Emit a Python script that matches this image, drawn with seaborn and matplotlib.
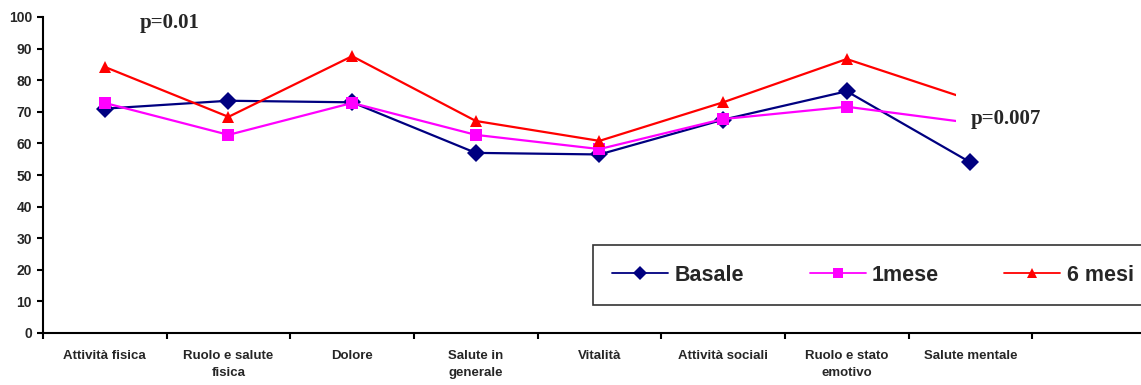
import numpy as np
import pandas as pd
import seaborn as sns
import matplotlib.pyplot as plt
from matplotlib.ticker import FixedLocator

# dati
categorie = ['Attività fisica', 'Ruolo e salute\nfisica', 'Dolore', 'Salute in\ngenerale',
             'Vitalità', 'Attività sociali', 'Ruolo e stato\nemotivo', 'Salute mentale']
basale = [71, 73.5, 73, 57, 56.5, 67.5, 76.5, 54]
un_mese = [72.8, 62.7, 72.8, 62.7, 58.2, 67.7, 71.6, 66.5]
sei_mesi = [84.2, 68.4, 87.6, 67.1, 60.8, 73, 86.7, 73.8]
serie = ['Basale', '1mese', '6 mesi']

df = pd.DataFrame({
    'pos': list(range(len(categorie))) * 3,
    'valore': basale + un_mese + sei_mesi,
    'serie': np.repeat(serie, len(categorie)),
})

sns.set_style('white')
plt.rcParams['font.family'] = ['Liberation Sans', 'DejaVu Sans']

fig, ax = plt.subplots(figsize=(11.41, 3.85), dpi=100)
fig.subplots_adjust(left=43 / 1141, right=1.0, bottom=52 / 385, top=368 / 385)

colori = {'Basale': '#000080', '1mese': '#FF00FF', '6 mesi': '#FF0000'}
marker = {'Basale': 'D', '1mese': 's', '6 mesi': '^'}
sns.lineplot(data=df, x='pos', y='valore', hue='serie', style='serie',
             palette=colori, markers=marker, dashes=False, markersize=9,
             markeredgewidth=0, linewidth=1.6, ax=ax, legend=True)

ax.set_xlim(-0.5, 8.38)
ax.set_ylim(0, 100)
ax.set_yticks(range(0, 101, 10))
ax.set_xticks(range(len(categorie)))
ax.set_xticklabels(categorie, fontsize=9.5, fontweight='bold', linespacing=1.55, va='top')
ax.xaxis.set_minor_locator(FixedLocator(np.arange(-0.5, 8, 1.0)))
ax.tick_params(axis='x', which='major', bottom=True, length=0, pad=12)
ax.tick_params(axis='x', which='minor', bottom=True, length=4, width=1.5, direction='out', color='black')
ax.tick_params(axis='y', left=True, length=4, width=1.5, direction='out', color='black',
               labelsize=10, pad=4)
for lab in ax.get_yticklabels():
    lab.set_fontweight('bold')
ax.set_xlabel('')
ax.set_ylabel('')
sns.despine(ax=ax)
for s in ['left', 'bottom']:
    ax.spines[s].set_linewidth(1.5)
    ax.spines[s].set_color('black')

# annotazioni
ax.text(0.52, 98, 'p=0.01', fontsize=15, fontweight='bold', family='Liberation Serif',
        ha='center', va='center')
ax.text(7.0, 67.8, 'p=0.007', fontsize=15, fontweight='bold', family='Liberation Serif',
        ha='left', va='center', zorder=5,
        bbox=dict(boxstyle='square,pad=0.7', facecolor='white', edgecolor='none'))

handles, labels = ax.get_legend_handles_labels()
for h in handles:
    h.set_markersize(7.5)
    h.set_linewidth(1.3)
leg = ax.legend(handles, labels, loc='lower left', ncol=3, mode='expand',
                bbox_to_anchor=(0.501, 0.089, 0.51, 0.243), frameon=True, fancybox=False,
                prop={'weight': 'bold', 'size': 15.5}, handlelength=2.6, handletextpad=0.3,
                borderaxespad=0, borderpad=0.9)
leg.get_frame().set_edgecolor('black')
leg.get_frame().set_linewidth(1.2)

plt.savefig('out.png', dpi=100)
